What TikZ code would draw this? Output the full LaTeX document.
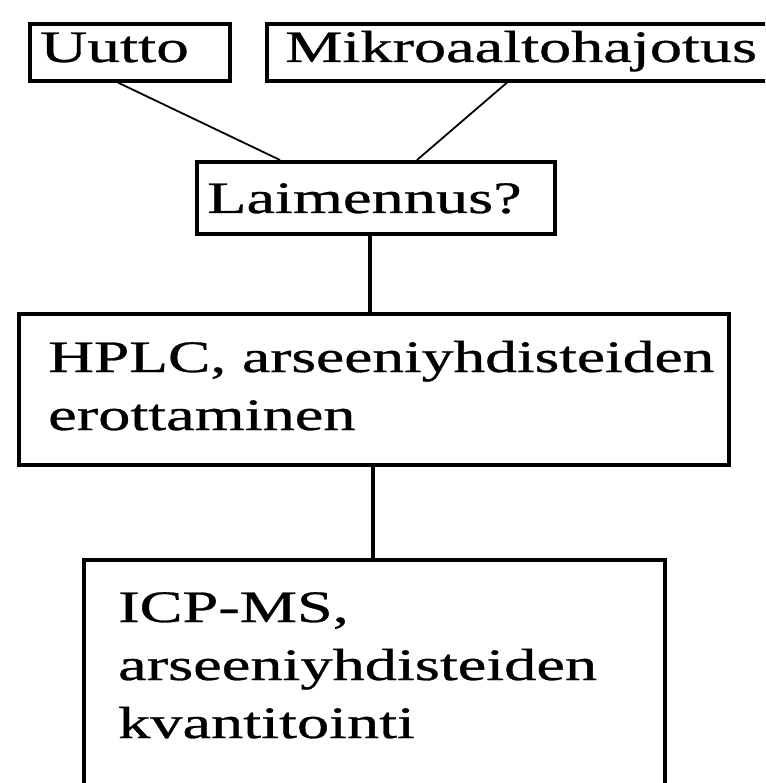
\documentclass[tikz,border=0pt]{standalone}
\usepackage{fontspec}
\setmainfont{Liberation Serif}[FakeBold=0.6]
\begin{document}
\begin{tikzpicture}[x=1pt,y=-1pt,
  box/.style={draw=black, line width=3.6pt, fill=none, inner sep=0pt, anchor=north west},
  txt/.style={anchor=base west, inner sep=0pt, font=\fontsize{45}{50}\selectfont},
  thickcon/.style={draw=black, line width=3.2pt},
  thincon/.style={draw=black, line width=1.8pt}]
\clip (0,0) rectangle (765,783);
\fill[white] (0,0) rectangle (765,783);
% boxes
\node[box, minimum width=200pt, minimum height=57pt] (uutto) at (28,22) {};
\node[box, minimum width=520pt, minimum height=57pt] (mikro) at (265,22) {};
\node[box, minimum width=358pt, minimum height=72pt] (laim) at (195,160) {};
\node[box, minimum width=710pt, minimum height=151pt] (hplc) at (17,312) {};
\node[box, minimum width=581pt, minimum height=260pt] (icp) at (82,558) {};
% texts
\node[txt] (tu) at (40,62) {\scalebox{1.45}[1]{Uutto}};
\node[txt] (tm) at (285,62) {\scalebox{1.43}[1]{Mikroaaltohajotus}};
\node[txt] (tl) at (207,213) {\scalebox{1.43}[1]{Laimennus?}};
\node[txt] (th1) at (48,372) {\scalebox{1.41}[1]{HPLC, arseeniyhdisteiden}};
\node[txt] (th2) at (48,430) {\scalebox{1.43}[1]{erottaminen}};
\node[txt] (ti1) at (118,622) {\scalebox{1.43}[1]{ICP-MS,}};
\node[txt] (ti2) at (118,680) {\scalebox{1.43}[1]{arseeniyhdisteiden}};
\node[txt] (ti3) at (118,738) {\scalebox{1.43}[1]{kvantitointi}};
% connectors
\draw[thincon] ([xshift=90pt]uutto.south west) -- ([xshift=85pt]laim.north west);
\draw[thincon] ([xshift=242pt]mikro.south west) -- ([xshift=222pt]laim.north west);
\draw[thickcon] ([xshift=175pt]laim.south west) -- ([xshift=353pt]hplc.north west);
\draw[thickcon] ([xshift=356pt]hplc.south west) -- ([xshift=291pt]icp.north west);
\end{tikzpicture}
\end{document}
